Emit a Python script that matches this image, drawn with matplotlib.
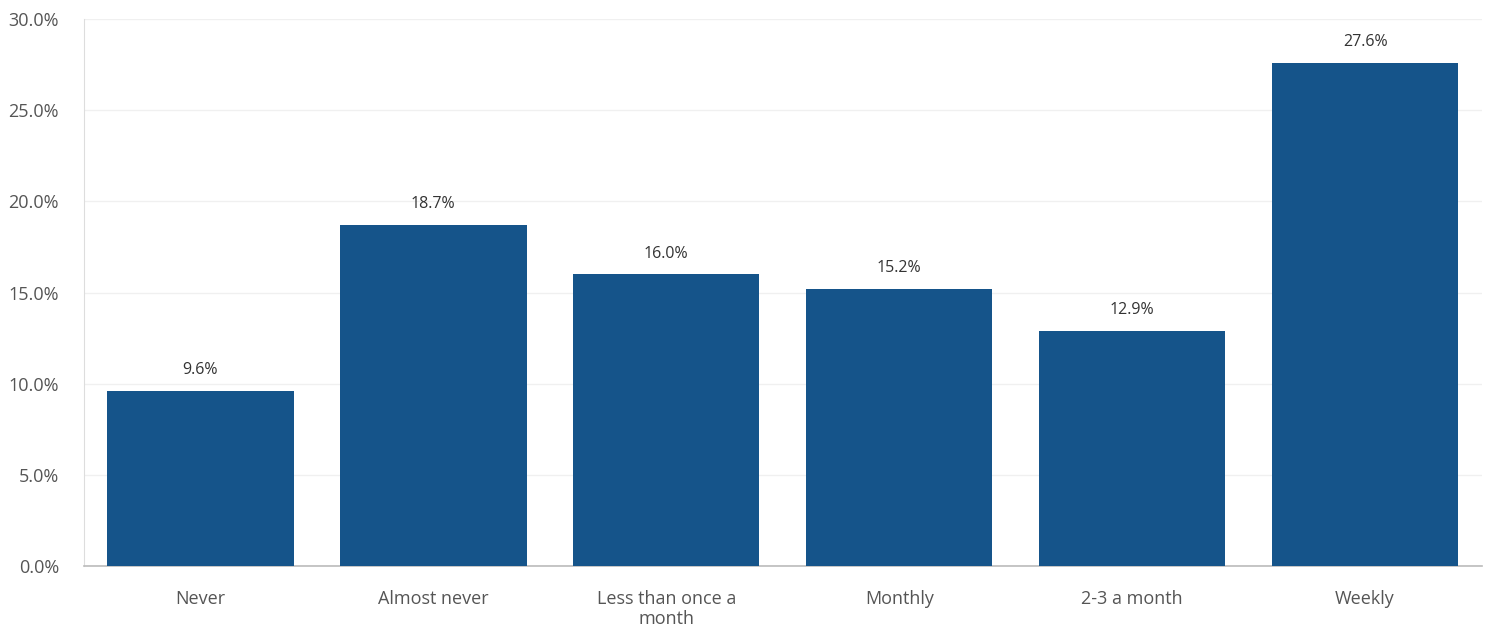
import matplotlib.pyplot as plt
from matplotlib.ticker import FuncFormatter

# Survey frequency responses (share of respondents, %)
categories = ['Never', 'Almost never', 'Less than once a\nmonth', 'Monthly', '2-3 a month', 'Weekly']
shares = [9.6, 18.7, 16.0, 15.2, 12.9, 27.6]
yticks = [0, 5, 10, 15, 20, 25, 30]

plt.rcParams['font.family'] = ['Open Sans', 'DejaVu Sans']

fig = plt.figure(figsize=(14.86, 6.3), dpi=100)
ax = fig.add_axes([0.0565, 0.1016, 0.9405, 0.868])

bars = ax.bar(range(len(categories)), shares, width=0.8, color='#15548a', zorder=3)
for i, v in enumerate(shares):
    ax.text(i, v + 0.7, '%.1f%%' % v, ha='center', va='bottom', fontsize=11.5, color='#333333')

ax.set_xlim(-0.5, len(categories) - 0.5)
ax.set_ylim(0, 30)
ax.set_yticks(yticks)
ax.yaxis.set_major_formatter(FuncFormatter(lambda v, p: '%.1f%%' % v))
ax.set_xticks(range(len(categories)))
ax.set_xticklabels(categories, linespacing=1.15)
ax.tick_params(axis='both', length=0, labelsize=13, labelcolor='#555555')
ax.tick_params(axis='x', pad=17)
ax.tick_params(axis='y', pad=18)

ax.grid(axis='y', color='#f0f0f0', linewidth=1, zorder=0)
for s in ['top', 'right']:
    ax.spines[s].set_visible(False)
ax.spines['left'].set_color('#dddddd')
ax.spines['bottom'].set_color('#bbbbbb')
ax.spines['bottom'].set_linewidth(1.2)

fig.savefig('out.png', dpi=100)
